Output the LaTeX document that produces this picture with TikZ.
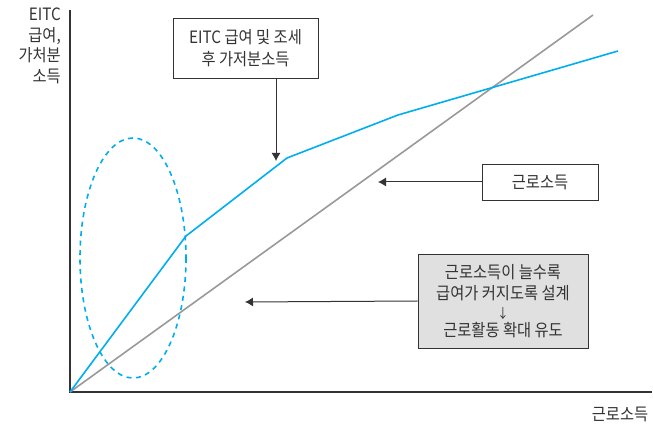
\documentclass[tikz,border=0pt]{standalone}
\usepackage{fontspec}
\setmainfont[FakeStretch=0.9]{Noto Sans CJK KR}
\usetikzlibrary{arrows.meta}
\definecolor{cblue}{HTML}{00AEEF}
\definecolor{cgray}{HTML}{999999}
\definecolor{cfill}{HTML}{E0E0E0}
\definecolor{caxis}{HTML}{333333}
\tikzset{
  lbl/.style={font=\fontsize{17pt}{20.5pt}\selectfont, text=caxis, inner sep=0pt},
  callout/.style={draw=caxis, line width=0.8pt, font=\fontsize{17pt}{21.5pt}\selectfont, text=caxis, align=center, inner sep=0pt},
  pointer/.style={draw=caxis, line width=1pt, -{Latex[length=8pt,width=9pt]}},
}
\begin{document}
\begin{tikzpicture}[x=1pt,y=-1pt]
\useasboundingbox (0,0) rectangle (653,427);
% axes
\coordinate (O) at (70,392);
\coordinate (ytop) at (70,10);
\coordinate (xend) at (652,392);
\draw[caxis, line width=1.1pt] (ytop) -- (O) -- (xend);
% 45-degree line
\coordinate (gend) at (593,15);
\draw[cgray, line width=1.6pt] (O) -- (gend);
% EITC curve
\coordinate (b1) at (186,236);
\coordinate (b2) at (287,158);
\coordinate (b3) at (398,115);
\coordinate (b4) at (618,51);
\draw[cblue, line width=1.6pt, line join=round] (O) -- (b1) -- (b2) -- (b3) -- (b4);
% dashed ellipse
\coordinate (ell) at (133,258);
\draw[cblue, line width=1.6pt, dash pattern=on 5pt off 4.5pt] (ell) ellipse [x radius=53, y radius=120];
% axis labels
\node[lbl, anchor=north east, align=right] (ylab) at (61,8) {EITC\\급여,\\가처분\\소득};
\node[lbl, anchor=center] (xlab) at (620,414) {근로소득};
% callout boxes
\node[callout, minimum width=145pt, minimum height=60pt] (box1) at (245.5,48) {EITC 급여 및 조세\\후 가저분소득};
\node[callout, minimum width=116pt, minimum height=36pt] (box2) at (540,182) {근로소득};
\node[callout, fill=cfill, minimum width=170pt, minimum height=94pt] (box3) at (503,301) {근로소득이 늘수록\\급여가 커지도록 설계\\[-3pt]{\fontsize{13pt}{14pt}\selectfont ↓}\\[-3pt]근로활동 확대 유도};
% pointers
\coordinate (t1) at (276,161);
\coordinate (t2) at (378,182);
\coordinate (t3) at (245,302);
\draw[pointer] (box1.south -| t1) -- (t1);
\draw[pointer] (box2.west) -- (t2);
\draw[pointer] (box3.west) -- (t3);
\end{tikzpicture}
\end{document}
